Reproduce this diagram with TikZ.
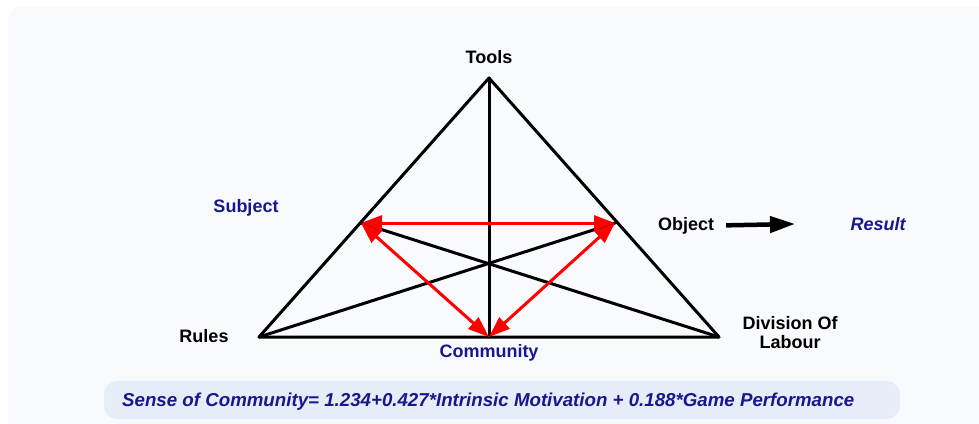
\documentclass[tikz,border=0pt]{standalone}
\usepackage{fontspec}
\setmainfont{Liberation Sans}
\usetikzlibrary{arrows.meta, positioning}
\definecolor{navytext}{RGB}{24,24,140}
\definecolor{panelbg}{RGB}{249,250,253}
\definecolor{formulabg}{RGB}{230,236,248}

\begin{document}
\begin{tikzpicture}[x=1pt, y=-1pt,
        lbl/.style={font=\fontsize{18}{19}\selectfont\bfseries, inner sep=0pt, anchor=base},
        blue lbl/.style={lbl, text=navytext},
        side/.style={line width=3pt, line cap=round, line join=round},
        link/.style={line width=3pt, red, {Triangle[length=21pt,width=15pt]}-{Triangle[length=21pt,width=15pt]}}]
    \useasboundingbox (0,0) rectangle (979,423);
    \fill[panelbg, rounded corners=14pt] (8,6) rectangle (1000,450);

    % corners of the triangle and the points on its sides
    \coordinate (top) at (489,78);
    \coordinate (rul) at (259,337);
    \coordinate (div) at (719,337);
    \coordinate (com) at (489,337);
    \coordinate (sub) at (361,223);
    \coordinate (obj) at (615,223);

    \draw[side] (top) -- (rul) -- (div) -- cycle;
    \path[side, draw]
        (top) edge (com)
        (rul) edge (obj)
        (sub) edge (div);

    \path[link]
        (sub) edge (obj)
        (sub) edge (com)
        (obj) edge (com);

    % labels
    \node[lbl] (tools) at (489,63) {Tools};
    \node[blue lbl] (subject) at (246,212) {Subject};
    \node[lbl] (object) at (686,230) {Object};
    \node[blue lbl, font=\fontsize{18}{19}\selectfont\bfseries\itshape] (result) at (878,230) {Result};
    \node[lbl, align=center] (division) at (790,348) {Division Of\\Labour};
    \node[lbl] (rules) at (204,342) {Rules};
    \node[blue lbl] (community) at (489,357) {Community};

    \coordinate (res) at (795,224);
    \draw[line width=4.5pt, -{Triangle[length=25pt,width=16pt]}] ([xshift=12pt]object.east) -- (res);

    % regression line
    \fill[formulabg, rounded corners=13pt] (104,381) rectangle (900,419);
    \node[blue lbl, font=\fontsize{18.7}{20}\selectfont\bfseries\itshape, anchor=base west] (eq) at (122,406)
        {Sense of Community= 1.234+0.427*Intrinsic Motivation + 0.188*Game Performance};
\end{tikzpicture}
\end{document}
